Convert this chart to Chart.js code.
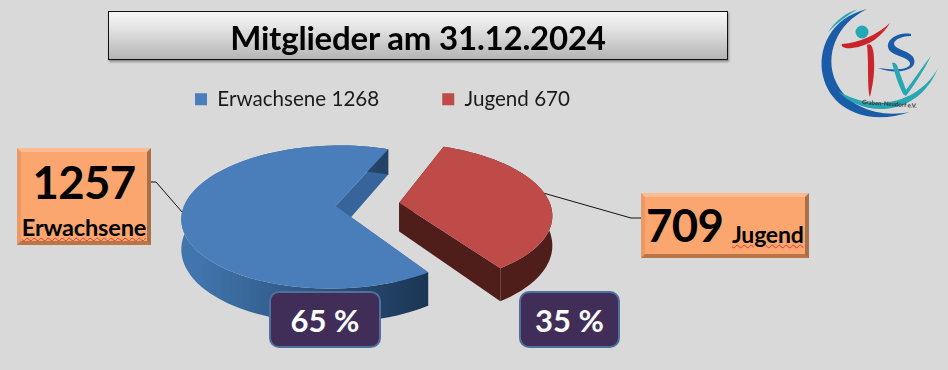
<!DOCTYPE html>
<html lang="de">
<head>
<meta charset="utf-8">
<title>Mitglieder am 31.12.2024</title>
<script src="https://cdn.jsdelivr.net/npm/chart.js@4/dist/chart.umd.js"></script>
<style>
  html, body { margin: 0; padding: 0; width: 948px; height: 370px; overflow: hidden; background: #d9d9d9; font-family: Lato, sans-serif; }
  #chart { position: absolute; left: 0; top: 0; }
  .box { position: absolute; box-sizing: border-box; text-align: center; color: #000; font-weight: 700; white-space: nowrap; }
  #titel { left: 108px; top: 11px; width: 620px; height: 49px; border: 1px solid #111; line-height: 50px; font-size: 33px; letter-spacing: -0.2px;
    background: linear-gradient(#f7f7f7, #e6e6e6 30%, #b5b5b5); box-shadow: 1px 2px 2px rgba(0,0,0,.35); }
  .orange { background: #fba56f; border-style: solid; border-width: 4px; border-color: #fdbb92 #a86f48 #bb7647 #eb9a66; }
  #boxErw { left: 17px; top: 148px; width: 134px; height: 97px; }
  #boxJug { left: 641px; top: 193px; width: 168px; height: 65px; text-align: left; }
  .zahl { font-size: 45.5px; letter-spacing: -0.6px; line-height: 46px; }
  .wort { text-decoration: underline wavy #d8403a 1px; text-underline-offset: 1px; }
  #boxErw .zahl { display: block; margin-top: 7px; }
  #boxErw .wort { display: block; font-size: 23.6px; line-height: 26px; margin-top: 9px; letter-spacing: -0.2px; }
  #boxJug .zahl { position: absolute; left: 1px; top: 5px; }
  #boxJug .wort { position: absolute; left: 87px; top: 24px; font-size: 23px; line-height: 26px; letter-spacing: -0.2px; }
  .prozent { top: 291px; height: 57px; background: #402e58; border: 2px solid #4f6f9f; border-radius: 10px; color: #fff; font-size: 31px; line-height: 54px; }
  #p65 { left: 269px; width: 112px; }
  #p35 { left: 519px; width: 101px; }
  #logo { position: absolute; left: 800px; top: 0; width: 148px; height: 130px; }
</style>
</head>
<body>
<canvas id="chart" width="765" height="370"></canvas>
<div class="box" id="titel">Mitglieder am 31.12.2024</div>
<div class="box orange" id="boxErw"><span class="zahl">1257</span><span class="wort">Erwachsene</span></div>
<div class="box orange" id="boxJug"><span class="zahl">709</span><span class="wort">Jugend</span></div>
<div class="box prozent" id="p65">65 %</div>
<div class="box prozent" id="p35">35 %</div>
<svg id="logo" viewBox="0 0 148 130">
  <path d="M67 9 C30 18 17 50 23 76 C30 108 66 127 110 112 C80 118 48 108 36 82 C24 56 36 24 67 9Z" fill="#1a5ca8"/>
  <path d="M58 9 C46 13 36 20 28 32 C38 22 48 15 58 9Z" fill="#27a6b4"/>
  <path d="M38 91 C62 118 118 118 138 68 C122 98 80 116 38 91Z" fill="#27a6b4"/>
  <circle cx="62" cy="32" r="6.5" fill="#27a6b4"/>
  <path d="M42 44 C60 43 78 34 90 23 C82 36 70 46 52 48 C46 49 40 47 42 44Z" fill="#c9252b"/>
  <path d="M67 45 C71 42 74 48 74 60 C75 75 72 88 70 97 C67 88 69 65 67 45Z" fill="#c9252b"/>
  <path d="M111 34 C100 32 87 38 88 47 C89 56 108 56 110 63 C111 69 98 71 78 68 C95 75 118 71 114 59 C112 51 95 50 94 44 C94 39 103 36 111 36Z" fill="#1a5ca8"/>
  <path d="M92 63 C95 62 97 64 98 68 L106 90 C115 78 123 66 131 56 C124 70 115 84 106 96 L103 94 C98 84 95 74 92 63Z" fill="#27a6b4"/>
  <text x="62" y="104" font-family="Lato" font-size="6" font-weight="700" fill="#333" transform="rotate(4 62 104)">Graben-Neudorf e.V.</text>
</svg>
<script>
const kategorien = ["Erwachsene 1268", "Jugend 670"];
const mitglieder = [1268, 670];

// blick von schraeg oben, Chart.js kennt kein 3D
const HOEHE = 0.459;
const PERSPEKTIVE = 0.155;
const TIEFE = 29;
const VERSATZ_X = -15; // Legende steht mittiger als die Torte
const farbenSeite = ["#37659b", "#4f1e1b"];
const verlaufAussen = [["#4175ad", "#1b3553"], ["#4f1e1b", "#4f1e1b"]];
// wohin die Linien vom Kasten zum Stueck laufen: Winkel am Rand, Knick, Kastenrand
const linien = [
  { winkel: 175, knick: [156, 182], ende: [150, 182] },
  { winkel: -8, knick: [631, 218], ende: [642, 218] },
];

const torte3d = {
  id: "torte3d",
  beforeDatasetsDraw(chart) {
    const ctx = chart.ctx;
    chart.getDatasetMeta(0).data.forEach((arc, i) => {
      const { x, y, startAngle, endAngle, outerRadius } = arc.getProps(["x", "y", "startAngle", "endAngle", "outerRadius"]);
      const mitte = (startAngle + endAngle) / 2;
      const off = arc.options.offset / outerRadius;
      const punkt = (a, r, tiefe) => {
        const u = Math.cos(mitte) * off + r * Math.cos(a);
        const v = Math.sin(mitte) * off + r * Math.sin(a);
        const w = 1 - PERSPEKTIVE * v;
        return { x: x + VERSATZ_X + (outerRadius * u) / w, y: y + (outerRadius * HOEHE * v + tiefe) / w };
      };
      const bogen = (tiefe) => {
        const pts = [];
        for (let n = 0; n <= 80; n++) pts.push(punkt(startAngle + ((endAngle - startAngle) * n) / 80, 1, tiefe));
        return pts;
      };
      const flaeche = (pts, farbe) => {
        ctx.beginPath();
        pts.forEach((p, n) => (n ? ctx.lineTo(p.x, p.y) : ctx.moveTo(p.x, p.y)));
        ctx.closePath();
        ctx.fillStyle = farbe;
        ctx.fill();
      };
      [startAngle, endAngle].forEach((a) => {
        flaeche([punkt(a, 0, 0), punkt(a, 1, 0), punkt(a, 1, TIEFE), punkt(a, 0, TIEFE)], farbenSeite[i]);
      });
      const oben = bogen(0);
      const unten = bogen(TIEFE);
      const grad = ctx.createLinearGradient(x + VERSATZ_X - 170, 0, x + VERSATZ_X + 62, 0);
      grad.addColorStop(0, verlaufAussen[i][0]);
      grad.addColorStop(1, verlaufAussen[i][1]);
      flaeche(oben.concat(unten.slice().reverse()), grad);
      flaeche([punkt(0, 0, 0)].concat(oben), arc.options.backgroundColor);

      const l = linien[i];
      const rand = punkt((l.winkel * Math.PI) / 180, 1, 0);
      ctx.beginPath();
      ctx.moveTo(rand.x, rand.y);
      ctx.lineTo(l.knick[0], l.knick[1]);
      ctx.lineTo(l.ende[0], l.ende[1]);
      ctx.strokeStyle = "#111";
      ctx.lineWidth = 1;
      ctx.stroke();
    });
    return false;
  },
};

new Chart(document.getElementById("chart"), {
  type: "pie",
  data: {
    labels: kategorien,
    datasets: [
      {
        data: mitglieder,
        backgroundColor: ["#4a7ebb", "#be4b48"],
        borderWidth: 0,
        offset: 32,
      },
    ],
  },
  options: {
    responsive: false,
    animation: false,
    rotation: 146,
    radius: 151,
    layout: { padding: { top: 26, bottom: 81 } },
    plugins: {
      tooltip: { enabled: false },
      legend: {
        position: "top",
        labels: {
          color: "#1a1a1a",
          font: { family: "Lato", size: 20.6 },
          boxWidth: 12,
          boxHeight: 12,
          padding: 63,
        },
      },
    },
  },
  plugins: [torte3d],
});
</script>
</body>
</html>
